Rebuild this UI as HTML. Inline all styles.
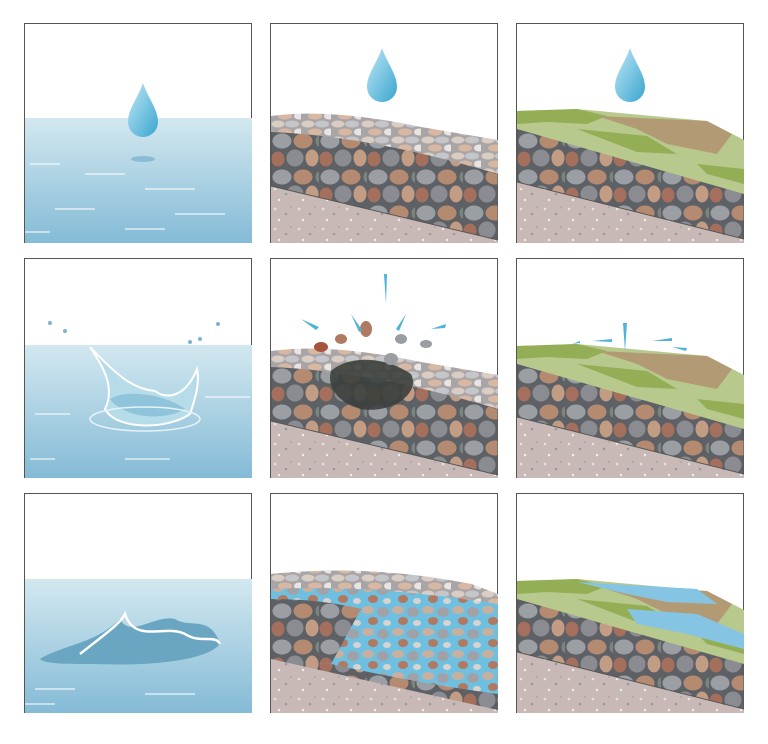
<!DOCTYPE html>
<html><head><meta charset="utf-8"><style>html,body{margin:0;padding:0;background:#fff}svg{display:block}</style></head><body>
<svg width="768" height="744" viewBox="0 0 768 744" xmlns="http://www.w3.org/2000/svg">
<defs>
<linearGradient id="wat" x1="0" y1="0" x2="0" y2="1"><stop offset="0" stop-color="#d3e8f0"/><stop offset="1" stop-color="#84bbd6"/></linearGradient>
<linearGradient id="drop" x1="0" y1="0" x2="1" y2="1"><stop offset="0" stop-color="#bfe6f5"/><stop offset="1" stop-color="#3aa6cf"/></linearGradient>
<pattern id="rk" width="48" height="36" patternUnits="userSpaceOnUse">
<rect width="48" height="36" fill="#5d6064"/>
<g stroke="#5d6064" stroke-width="1">
<ellipse cx="11" cy="9" rx="10" ry="8" fill="#9b9ea3"/>
<ellipse cx="32" cy="9" rx="10" ry="8" fill="#b48a71"/>
<ellipse cx="7" cy="27" rx="7" ry="8" fill="#a56f5d"/>
<ellipse cx="24" cy="26" rx="9" ry="9" fill="#8a8c91"/>
<ellipse cx="41" cy="26" rx="7" ry="9" fill="#c39c84"/>
<ellipse cx="48" cy="9" rx="4" ry="6" fill="#7b8580"/>
</g>
</pattern>
<pattern id="lrk" width="30" height="16" patternUnits="userSpaceOnUse">
<rect width="30" height="16" fill="#a9a5a6"/>
<ellipse cx="7" cy="4" rx="6.5" ry="3.5" fill="#d9cdc4"/>
<ellipse cx="21" cy="4" rx="7" ry="3.5" fill="#c5c6ca"/>
<ellipse cx="14" cy="12" rx="7" ry="3.5" fill="#d8b8a2"/>
<ellipse cx="28" cy="12" rx="5" ry="3.5" fill="#e7e4e3"/>
</pattern>
<pattern id="brk" width="30" height="22" patternUnits="userSpaceOnUse">
<rect width="30" height="22" fill="#6fbfe0"/>
<ellipse cx="7" cy="6" rx="6" ry="4" fill="#c8b0a0"/>
<ellipse cx="22" cy="8" rx="6" ry="5" fill="#a0a2a7"/>
<ellipse cx="12" cy="17" rx="5" ry="4" fill="#b07a62"/>
<ellipse cx="26" cy="19" rx="4" ry="3" fill="#d7d3d1"/>
</pattern>
<pattern id="grv" width="24" height="20" patternUnits="userSpaceOnUse">
<rect width="24" height="20" fill="#c8b9b6"/>
<circle cx="4" cy="5" r="1.3" fill="#e8e2e0"/><circle cx="15" cy="10" r="1.3" fill="#959aa1"/><circle cx="8" cy="16" r="1.2" fill="#eee"/><circle cx="20" cy="3" r="1" fill="#a6a8ad"/>
</pattern>
<clipPath id="cp"><rect width="227" height="219"/></clipPath>
<g id="drp"><path d="M0,-31 C5,-16 15,-5 15,8 A15,15 0 0 1 -15,8 C-15,-5 -5,-16 0,-31Z" fill="url(#drop)"/></g>
<g id="soil2">
<path d="M0,150 L227,200 L227,219 L0,219Z" fill="url(#grv)"/>
<path d="M0,105 Q100,110 227,150 L227,216 L0,162Z" fill="url(#rk)" stroke="#555" stroke-width="1"/>
</g>
<g id="soil3">
<path d="M0,150 L227,200 L227,219 L0,219Z" fill="url(#grv)"/>
<path d="M0,104 L227,168 L227,215 L0,158Z" fill="url(#rk)" stroke="#555" stroke-width="1"/>
</g>
<g id="grass">
<path d="M0,87 L60,85 L190,97 L227,116 L227,170 L0,105Z" fill="#b7c98c"/>
<path d="M0,87 L60,85 L90,92 L70,100 L30,98 L0,100Z" fill="#94ae56"/>
<path d="M80,92 L190,97 L215,110 L200,130 L150,120 L120,105Z" fill="#b29a75"/>
<path d="M60,105 L130,112 L160,130 L120,128Z" fill="#94ae56"/>
<path d="M180,140 L227,145 L227,160 L190,150Z" fill="#94ae56"/>
</g>
</defs>
<g fill="none" stroke="#555" stroke-width="1">
<rect x="24.5" y="23.5" width="227" height="219"/><rect x="270.5" y="23.5" width="227" height="219"/><rect x="516.5" y="23.5" width="227" height="219"/>
<rect x="24.5" y="258.5" width="227" height="219"/><rect x="270.5" y="258.5" width="227" height="219"/><rect x="516.5" y="258.5" width="227" height="219"/>
<rect x="24.5" y="493.5" width="227" height="219"/><rect x="270.5" y="493.5" width="227" height="219"/><rect x="516.5" y="493.5" width="227" height="219"/>
</g>
<!-- col1 -->
<g transform="translate(25,24)" clip-path="url(#cp)">
<rect y="94" width="227" height="125" fill="url(#wat)"/>
<g stroke="#fff" stroke-width="1.5" opacity="0.7"><path d="M5,140h30M60,150h40M120,165h50M30,185h40M150,190h50M0,208h25M100,205h40"/></g>
<ellipse cx="118" cy="135" rx="12" ry="3" fill="#8cbcd3"/>
<use href="#drp" x="118" y="90"/>
</g>
<g transform="translate(25,259)" clip-path="url(#cp)">
<rect y="86" width="227" height="133" fill="url(#wat)"/>
<path d="M65,88 C80,110 90,130 80,150 C90,170 140,172 165,155 C170,140 175,125 172,110 C160,140 140,140 130,132 C110,130 95,120 65,88Z" fill="#b6dbe9" stroke="#fff" stroke-width="2"/>
<path d="M85,140 C100,130 140,135 160,150 C140,162 100,160 85,140Z" fill="#8fc4da"/>
<ellipse cx="120" cy="160" rx="55" ry="12" fill="none" stroke="#e5f2f7" stroke-width="1.5"/>
<g fill="#7cb4d2"><circle cx="25" cy="64" r="2"/><circle cx="40" cy="72" r="2"/><circle cx="165" cy="83" r="2"/><circle cx="175" cy="80" r="2"/><circle cx="193" cy="65" r="2"/></g>
<g stroke="#fff" stroke-width="1.5" opacity="0.7"><path d="M5,200h25M100,200h45M10,155h35M180,138h45"/></g>
</g>
<g transform="translate(25,494)" clip-path="url(#cp)">
<rect y="85" width="227" height="134" fill="url(#wat)"/>
<path d="M15,165 C40,150 70,150 95,125 C105,145 130,120 150,125 C165,135 185,120 195,150 C180,168 120,172 70,170 C40,170 20,170 15,165Z" fill="#6aa5c2"/>
<path d="M55,160 C80,140 95,130 100,120 C110,150 140,130 160,140 C175,150 190,140 195,150" fill="none" stroke="#fff" stroke-width="2.5"/>
<g stroke="#fff" stroke-width="1.5" opacity="0.7"><path d="M10,195h40M120,200h50M0,210h30"/></g>
</g>
<!-- col2 -->
<g transform="translate(271,24)" clip-path="url(#cp)">
<use href="#soil2"/>
<path d="M0,92 Q60,84 150,103 L227,116 L227,150 Q100,112 0,108Z" fill="url(#lrk)"/>
<use href="#drp" x="111" y="55"/>
</g>
<g transform="translate(271,259)" clip-path="url(#cp)">
<use href="#soil2"/>
<path d="M0,92 Q60,84 150,103 L227,116 L227,150 Q100,112 0,108Z" fill="url(#lrk)"/>
<path d="M60,112 C75,98 110,95 140,115 C150,135 120,155 90,150 C70,145 55,130 60,112Z" fill="#3b403d" opacity="0.9"/>
<g fill="#9a9da2"><ellipse cx="70" cy="80" rx="6" ry="5" fill="#b07a62"/><ellipse cx="95" cy="70" rx="6" ry="8" fill="#b07a62"/><ellipse cx="130" cy="80" rx="6" ry="5"/><ellipse cx="155" cy="85" rx="6" ry="4"/><ellipse cx="120" cy="100" rx="7" ry="6"/><ellipse cx="50" cy="88" rx="7" ry="5" fill="#a5553e"/></g>
<g fill="#4fb2d8"><path d="M113,15 L116,15 L115,45Z"/><path d="M30,60 l18,8 l-3,3Z"/><path d="M135,55 l-10,15 l3,2Z"/><path d="M80,55 l8,18 l3,-2Z"/><path d="M160,70 l15,-5 l-1,4Z"/></g>
</g>
<g transform="translate(271,494)" clip-path="url(#cp)">
<path d="M0,150 L227,200 L227,219 L0,219Z" fill="url(#grv)"/>
<path d="M0,80 Q100,70 200,90 L227,100 L227,216 L0,162Z" fill="url(#brk)"/>
<path d="M0,105 Q50,105 90,115 L60,170 L0,165Z" fill="url(#rk)"/>
<path d="M60,170 Q150,190 227,200 L227,216 L0,165Z" fill="url(#rk)"/>
<path d="M0,80 Q100,70 200,90 L227,100 L227,110 Q100,90 0,95Z" fill="url(#lrk)"/>
</g>
<!-- col3 -->
<g transform="translate(517,24)" clip-path="url(#cp)">
<use href="#soil3"/><use href="#grass"/>
<use href="#drp" x="113" y="55"/>
</g>
<g transform="translate(517,259)" clip-path="url(#cp)">
<use href="#soil3"/><use href="#grass"/>
<g fill="#4fb2d8"><path d="M106,64 L110,64 L108,92Z"/><path d="M75,82 l20,-2 l0,3Z"/><path d="M135,82 l20,-3 l0,3Z"/><path d="M55,85 l8,-3 l0,2Z"/><path d="M155,88 l15,1 l-1,3Z"/></g>
</g>
<g transform="translate(517,494)" clip-path="url(#cp)">
<use href="#soil3"/><use href="#grass"/>
<path d="M60,88 L180,95 L200,110 L150,108 L110,100Z" fill="#86c4e4"/>
<path d="M110,115 L180,120 L227,140 L227,155 L170,140 L120,130Z" fill="#86c4e4"/>
</g>
</svg>
</body></html>
